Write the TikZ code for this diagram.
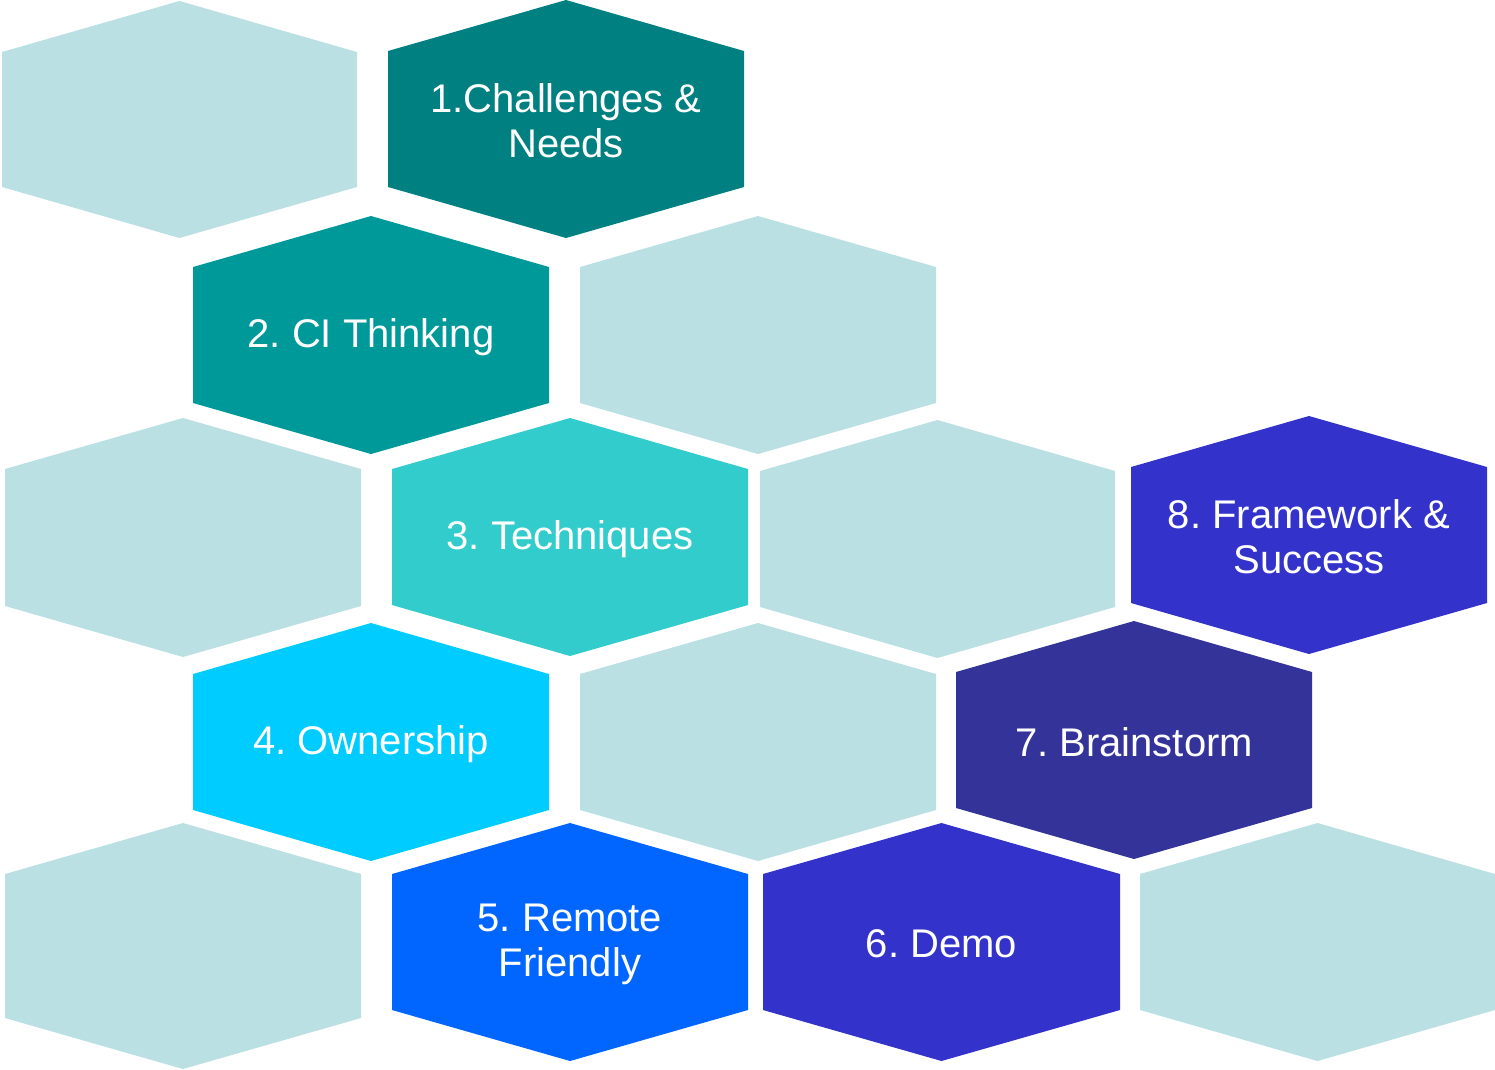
\documentclass[tikz,border=0pt]{standalone}
\usepackage{fontspec}
\setmainfont{Liberation Sans}
\frenchspacing
\definecolor{lightc}{HTML}{BBE0E3}
\definecolor{cone}{HTML}{008080}
\definecolor{ctwo}{HTML}{009999}
\definecolor{cthree}{HTML}{33CCCC}
\definecolor{cfour}{HTML}{00CCFF}
\definecolor{cfive}{HTML}{0066FF}
\definecolor{csix}{HTML}{3333CC}
\definecolor{cseven}{HTML}{333399}
\definecolor{ceight}{HTML}{3333CC}
\newcommand\hexcell[7]{%
  \fill[#6] ({(#2+#3)/2},#4) -- (#3,#4+51) -- (#3,#5-51) -- ({(#2+#3)/2},#5)
    -- (#2,#5-51) -- (#2,#4+51) -- cycle;
  \node[lbl] (#1) at ({(#2+#3)/2},{(#4+#5)/2+2}) {\frenchspacing #7};}
\begin{document}
\begin{tikzpicture}[x=1pt,y=-1pt,
  lbl/.style={text=white,align=center,inner sep=0pt,font=\fontsize{40}{45}\selectfont}]
\useasboundingbox (0,0) rectangle (1495,1069);
\hexcell{l1}{2}{357}{1}{238}{lightc}{}
\hexcell{h1}{388}{744}{0}{238}{cone}{1.Challenges \&\\Needs}
\hexcell{h2}{193}{549}{216}{454}{ctwo}{2. CI Thinking}
\hexcell{l2}{580}{936}{216}{454}{lightc}{}
\hexcell{l3}{5}{361}{418}{657}{lightc}{}
\hexcell{h3}{392}{748}{418}{656}{cthree}{3. Techniques}
\hexcell{l4}{760}{1115}{420}{658}{lightc}{}
\hexcell{h8}{1131}{1487}{416}{654}{ceight}{8. Framework \&\\Success}
\hexcell{h4}{193}{549}{623}{861}{cfour}{4. Ownership}
\hexcell{l5}{580}{936}{623}{861}{lightc}{}
\hexcell{h7}{956}{1312}{621}{859}{cseven}{7. Brainstorm}
\hexcell{l6}{5}{361}{823}{1069}{lightc}{}
\hexcell{h5}{392}{748}{823}{1061}{cfive}{5. Remote\\Friendly}
\hexcell{h6}{763}{1120}{823}{1061}{csix}{6. Demo}
\hexcell{l7}{1140}{1495}{823}{1061}{lightc}{}
\end{tikzpicture}
\end{document}
